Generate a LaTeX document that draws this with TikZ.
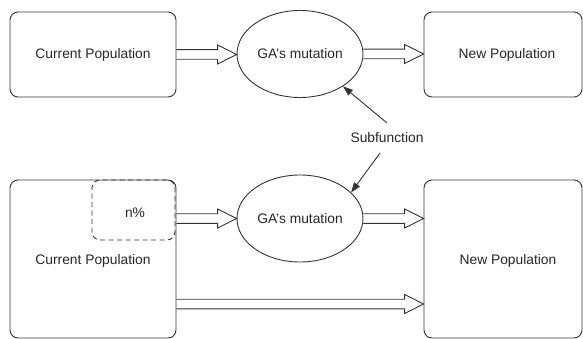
\documentclass[tikz,border=0pt]{standalone}
\usepackage{fontspec}
\setmainfont{Liberation Sans}
\usetikzlibrary{arrows.meta,calc}
\tikzset{
  box/.style={draw=black!80, line width=0.9pt, rounded corners=8pt, inner sep=0pt},
  ell/.style={draw=black!80, line width=0.9pt, ellipse, minimum width=126pt, minimum height=87pt, inner sep=0pt},
  dashbox/.style={draw=black!80, line width=0.9pt, dash pattern=on 5pt off 3.5pt, rounded corners=8pt, inner sep=0pt, minimum width=83pt, minimum height=60pt},
  hollow/.style={draw=black!80, line width=0.9pt, line join=miter},
  pointer/.style={draw=black!80, line width=0.9pt, -{Triangle[length=10pt,width=7pt]}},
  txt/.style={font=\fontsize{13.8}{16}\selectfont, text=black!85},
}
\usetikzlibrary{shapes.geometric}
\newcommand\blockarrow[2]{%
  \path[hollow] let \p1=(#1), \p2=(#2) in
    (\x1,\y1+4.8) -- (\x2-19,\y1+4.8) -- (\x2-19,\y1+9.5) -- (\x2,\y1)
    -- (\x2-19,\y1-9.5) -- (\x2-19,\y1-4.8) -- (\x1,\y1-4.8);}
\begin{document}
\begin{tikzpicture}[x=1pt,y=-1pt]
\useasboundingbox (0,0) rectangle (583,339);
% top row
\node[box, txt, minimum width=166pt, minimum height=85pt] (cp1) at (93,54.5) {Current Population};
\node[ell, txt] (ga1) at (300,54) {GA's mutation};
\node[box, txt, minimum width=158pt, minimum height=85pt] (np1) at (503,54.5) {\hspace*{8pt}New Population};
% subfunction
\node[txt, inner sep=0pt] (sub) at (387,138) {Subfunction};
% bottom row
\node[box, minimum width=166pt, minimum height=158pt] (cp2) at (93,259) {};
\node[txt] (cp2t) at (93,261) {Current Population};
\node[dashbox] (pct) at (133.5,210) {};
\node[txt] (pctt) at (135,213) {n\%};
\node[ell, txt] (ga2) at (300,218.5) {GA's mutation};
\node[box, minimum width=158pt, minimum height=158pt] (np2) at (503,259) {};
\node[txt] (np2t) at (508,261) {New Population};
\coordinate (lowtap) at ([yshift=-45pt]cp2.east);
% block arrows
\blockarrow{cp1.east}{ga1.west}
\blockarrow{ga1.east}{np1.west}
\blockarrow{cp2.east |- ga2.west}{ga2.west}
\blockarrow{ga2.east}{np2.west}
\blockarrow{lowtap}{np2.west}
% pointers
\draw[pointer] ([yshift=15pt]sub.center) -- (ga1.-37.5);
\draw[pointer] ([xshift=-7pt,yshift=-15pt]sub.center) -- (ga2.27);
\end{tikzpicture}
\end{document}
